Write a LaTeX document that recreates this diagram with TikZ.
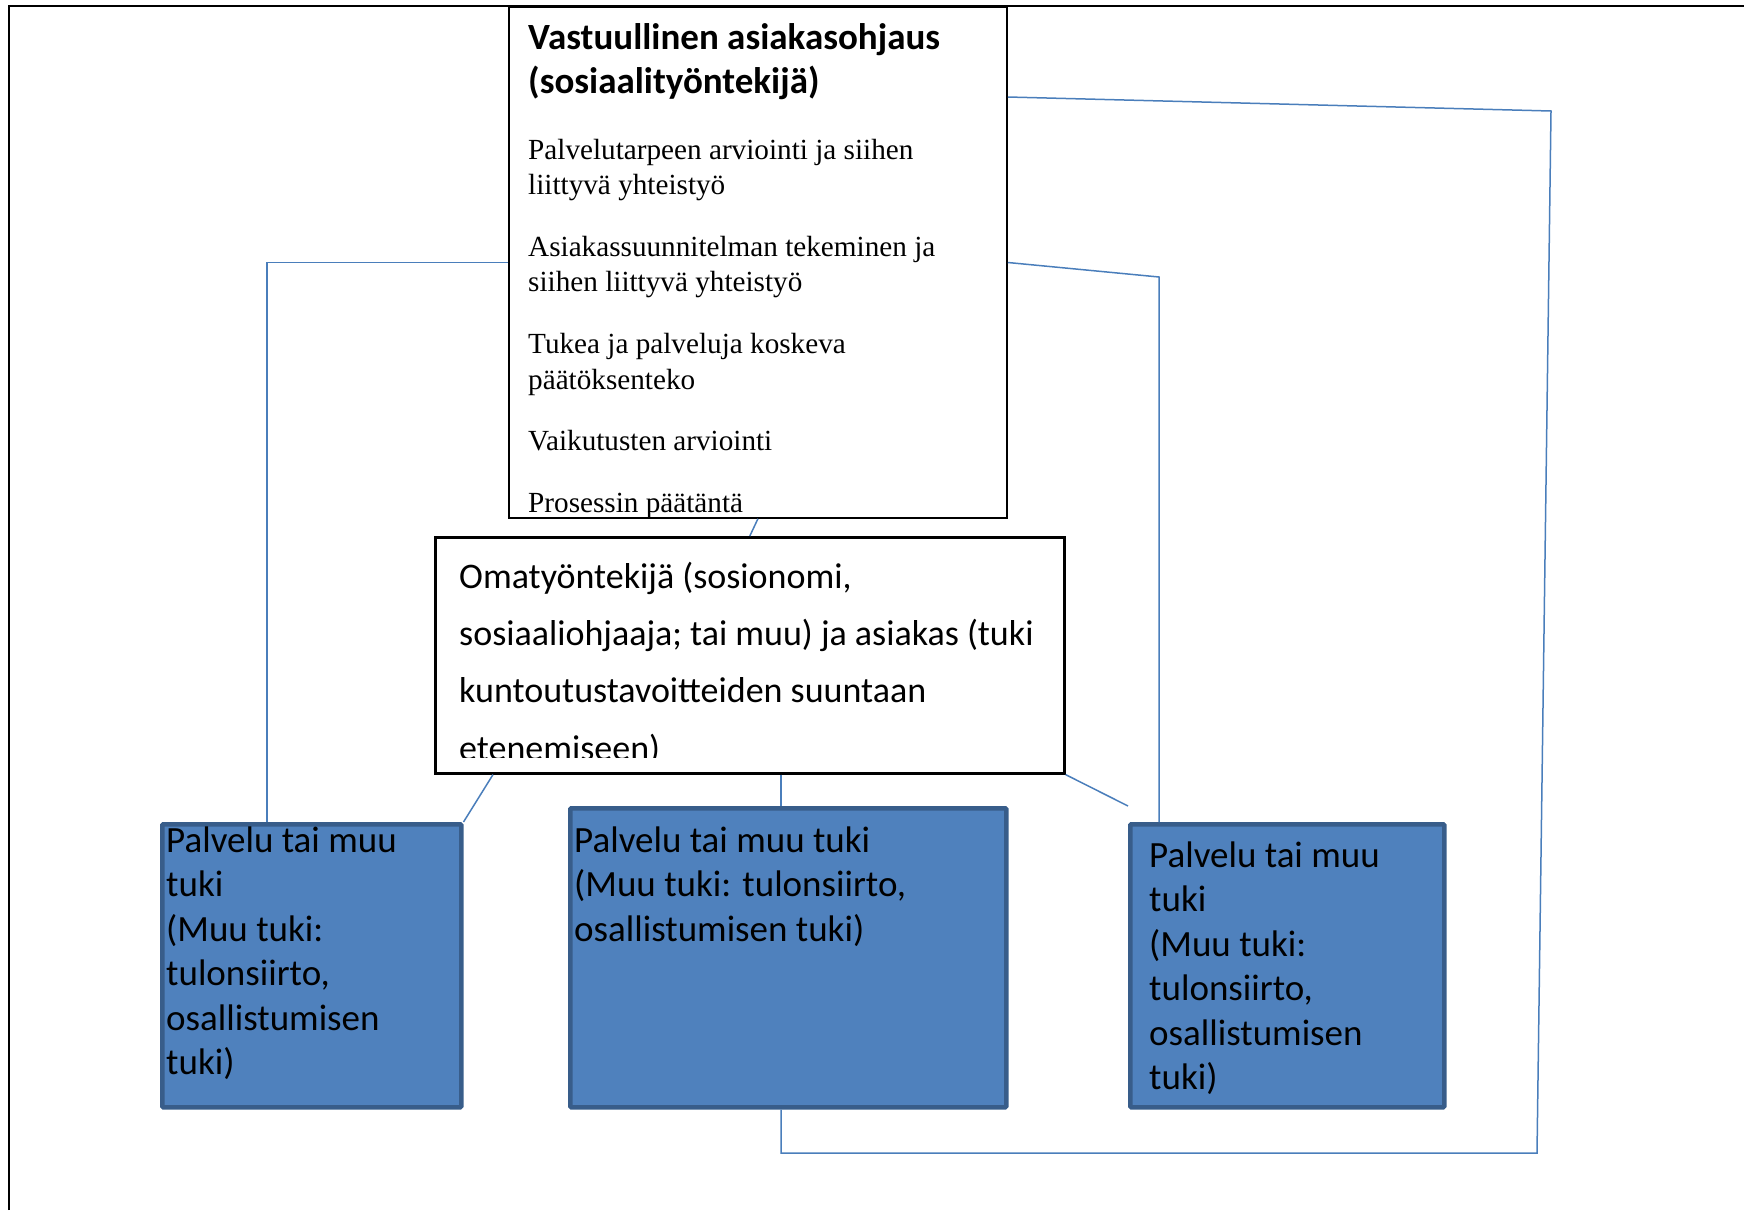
\documentclass[tikz,border=0pt]{standalone}
\usepackage{fontspec}
\setmainfont{Carlito}
\newfontfamily\timesfont{Liberation Serif}

\definecolor{palvsin}{HTML}{4F81BD}
\definecolor{palvreuna}{HTML}{385D8A}
\definecolor{yhteys}{HTML}{4A7EBB}

\tikzset{
  laatikko/.style={draw=black,fill=white,anchor=north west,inner sep=0pt},
  palvelu/.style={draw=palvreuna,fill=palvsin,line width=4.5pt,anchor=north west,inner sep=0pt,rounded corners=1pt},
  teksti/.style={anchor=north west,inner sep=0pt,align=left},
  isot/.style={font=\fontsize{37}{44.5}\selectfont}
}

\begin{document}
\begin{tikzpicture}[x=1pt,y=-1pt]

      \useasboundingbox (0,0) rectangle (1744,1210);

      % kehys
      \draw[line width=2.5pt] (9,1210) -- (9,6) -- (1744,6);

      \node[laatikko,line width=1.8pt,minimum width=498pt,minimum height=511pt] (vastuu) at (508,6) {};
      \node[laatikko,line width=2.6pt,minimum width=629pt,minimum height=236pt] (oma) at (434,536) {};
      \node[palvelu,minimum width=299pt,minimum height=283pt] (palv1) at (160,822) {};
      \node[palvelu,minimum width=436pt,minimum height=299pt] (palv2) at (568,806) {};
      \node[palvelu,minimum width=314pt,minimum height=283pt] (palv3) at (1128,822) {};

      \begin{scope}[every node/.style={teksti}]
        \node[font=\fontsize{37}{44.5}\selectfont\bfseries] (otsikko) at (528,18)
          {\strut Vastuullinen asiakasohjaus\\(sosiaalityöntekijä)};
        \node[font=\timesfont\fontsize{29.2}{35.6}\selectfont] (tehtavat) at (528,134)
          {\strut Palvelutarpeen arviointi ja siihen\\liittyvä yhteistyö\\[26pt]
           Asiakassuunnitelman tekeminen ja\\siihen liittyvä yhteistyö\\[26pt]
           Tukea ja palveluja koskeva\\päätöksenteko\\[26pt]
           Vaikutusten arviointi\\[26pt]
           Prosessin päätäntä};
        \node[isot] (palv1txt) at (166,821)
          {\strut Palvelu tai muu\\tuki\\(Muu tuki:\\tulonsiirto,\\osallistumisen\\tuki)};
        \node[isot] (palv2txt) at (574,821)
          {\strut Palvelu tai muu tuki\\(Muu tuki: tulonsiirto,\\osallistumisen tuki)};
        \node[isot] (palv3txt) at (1149,836)
          {\strut Palvelu tai muu\\tuki\\(Muu tuki:\\tulonsiirto,\\osallistumisen\\tuki)};
      \end{scope}

      % alin rivi jää laatikon reunan alle
      \begin{scope}
        \clip (434,536) rectangle (1066,757);
        \node[teksti,font=\fontsize{36}{57.3}\selectfont] (omatxt) at (459,548)
          {\strut Omatyöntekijä (sosionomi,\\sosiaaliohjaaja; tai muu) ja asiakas (tuki\\kuntoutustavoitteiden suuntaan\\etenemiseen)};
      \end{scope}

      \begin{scope}[draw=yhteys,line width=1.5pt]
        \coordinate (k1) at (267,262.5);
        \coordinate (k2) at (1159,277);
        \coordinate (k3) at (1551,111);
        \coordinate (k4) at (1537,1153);
        \coordinate (k5) at (781,1153);
        \coordinate (k6) at (1128,806);

        \draw (vastuu.north west) ++(0,256.5) -- (k1) -- (k1 |- palv1.north);
        \draw (vastuu.north east) ++(0,91) -- (k3) -- (k4) -- (k5) -- (k5 |- palv2.south);
        \draw (vastuu.north east) ++(0,256.5) -- (k2) -- (k2 |- palv3.north);
        \draw (vastuu.south) -- (oma.north);
        \draw (oma.south west) ++(59,0) -- (palv1.north east);
        \draw (oma.south -| k5) -- (palv2.north -| k5);
        \draw (oma.south east) -- (k6);
      \end{scope}

    \end{tikzpicture}
\end{document}
